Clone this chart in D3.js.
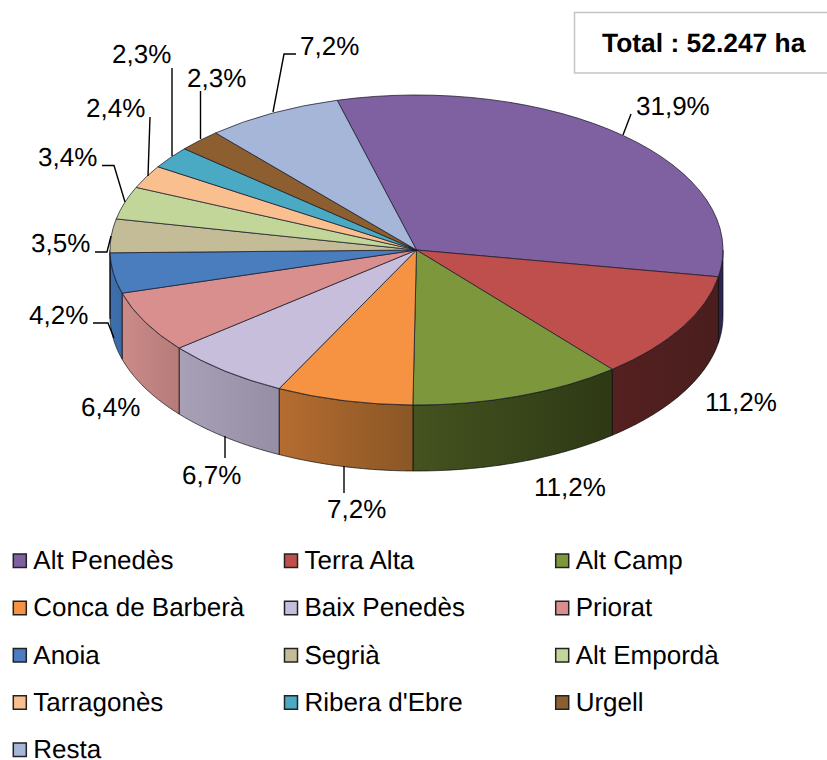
<!DOCTYPE html>
<html>
<head>
<meta charset="utf-8">
<script src="https://cdn.jsdelivr.net/npm/d3@7/dist/d3.min.js"></script>
<style>
html,body{margin:0;padding:0;background:#fff;}
svg{display:block;}
text{font-family:"Liberation Sans",Arial,sans-serif;fill:#000;text-rendering:geometricPrecision;}
</style>
</head>
<body>
<svg id="chart" width="827" height="760"></svg>
<script>
const categories = ["Alt Penedès","Terra Alta","Alt Camp","Conca de Barberà","Baix Penedès","Priorat","Anoia","Segrià","Alt Empordà","Tarragonès","Ribera d'Ebre","Urgell","Resta"];
const shares = [31.9,11.2,11.2,7.2,6.7,6.4,4.2,3.5,3.4,2.4,2.3,2.3,7.2];
const topColors = ["#7f60a0","#bf4f4c","#7d983c","#f59342","#c6bedb","#d98f8e","#4a7dbd","#c3bc96","#c2d69a","#fabf8f","#4aaac4","#8d5f30","#a5b6d8"];
const wallLeft  = ["#2a2048","#552020","#44531f","#b56c30","#a8a0b6","#cb8b89","#3f70ad","#888","#888","#888","#888","#888","#888"];
const wallRight = ["#332a58","#4a1e1e","#2e3915","#8a5726","#968ea4","#b67b79","#3a6ba5","#888","#888","#888","#888","#888","#888"];
const legendCols = 3;
const totalLabel = "Total : 52.247 ha";

// Layout of the annotations (label anchor and leader polyline)
const labelLayout = [
  {x:636,y:115,leader:[[631,114],[623,135]]},
  {x:705,y:411,leader:null},
  {x:534,y:496,leader:null},
  {x:327,y:518,leader:[[344,466],[344,493]]},
  {x:182,y:484,leader:[[225,436],[225,458]]},
  {x:81, y:416,leader:null},
  {x:29, y:324,leader:[[93,323],[108,323],[114,338]]},
  {x:31, y:252,leader:[[95,252],[107,252],[111,236]]},
  {x:38, y:166,leader:[[102,165.5],[114,165.5],[125,202]]},
  {x:86, y:117,leader:[[150,117],[148,176]]},
  {x:112,y:63, leader:[[172,68],[172,156]]},
  {x:187,y:87, leader:[[200.5,91],[200.5,139]]},
  {x:300,y:55, leader:[[296,54],[284,54],[273,112]]}
];

const svg = d3.select("#chart");
const cx = 416.5, cy = 250, rx = 306.5, ry = 155, depth = 66;
const fontSize = 26;
const startAngle = -15 * Math.PI / 180;
const pie = d3.pie().value(d => d).sort(null)
  .startAngle(startAngle).endAngle(startAngle + 2 * Math.PI);
const arcs = pie(shares);

const defs = svg.append("defs");
const wallGroup = svg.append("g");
const topGroup = svg.append("g");

// Side walls (only the front half of the rim is visible)
const ptAt = (a, dy) => [cx + rx * Math.sin(a), cy - ry * Math.cos(a) + dy];
const line = d3.line();
const frontA = Math.PI / 2, frontB = 3 * Math.PI / 2;
arcs.forEach((d, i) => {
  const a0 = Math.max(d.startAngle, frontA), a1 = Math.min(d.endAngle, frontB);
  if (a1 <= a0) return;
  const id = "wall" + i;
  const g = defs.append("linearGradient").attr("id", id).attr("x1", 0).attr("x2", 1).attr("y1", 0).attr("y2", 0);
  g.append("stop").attr("offset", 0).attr("stop-color", wallLeft[i]);
  g.append("stop").attr("offset", 1).attr("stop-color", wallRight[i]);
  const angles = d3.range(0, 61).map(k => a0 + (a1 - a0) * k / 60);
  const pts = angles.map(a => ptAt(a, 0)).concat(angles.slice().reverse().map(a => ptAt(a, depth)));
  wallGroup.append("path")
    .attr("d", line(pts) + "Z")
    .attr("fill", `url(#${id})`)
    .attr("stroke", "#000").attr("stroke-opacity", 0.65).attr("stroke-width", 1);
});

// Top surface: d3.arc squashed into an ellipse
const arcGen = d3.arc().innerRadius(0).outerRadius(rx);
topGroup.attr("transform", `translate(${cx},${cy}) scale(1,${ry / rx})`);
topGroup.selectAll("path").data(arcs).join("path")
  .attr("d", arcGen)
  .attr("fill", (d, i) => topColors[i])
  .attr("stroke", "#1a1a2a").attr("stroke-opacity", 0.75).attr("stroke-width", 1)
  .attr("stroke-linejoin", "round")
  .attr("vector-effect", "non-scaling-stroke");

// Leaders + percentage labels
const pct = d3.format(".1f");
const labels = svg.append("g");
labelLayout.forEach((l, i) => {
  if (l.leader) {
    labels.append("path").attr("d", line(l.leader))
      .attr("fill", "none").attr("stroke", "#000").attr("stroke-width", 1.4);
  }
  labels.append("text").attr("x", l.x).attr("y", l.y)
    .attr("font-size", fontSize)
    .text(pct(shares[i]).replace(".", ",") + "%");
});

// Total box (its right side runs off the picture)
svg.append("rect").attr("x", 574.5).attr("y", 12.5).attr("width", 260).attr("height", 60.5)
  .attr("fill", "#fff").attr("stroke", "#c4c4c4").attr("stroke-width", 1.5);
svg.append("text").attr("x", 602).attr("y", 52)
  .attr("font-size", 26.4).attr("font-weight", "bold").text(totalLabel);

// Legend
const colX = d3.scalePoint().domain(d3.range(legendCols)).range([13.3, 555.7]);
const rowY = d3.scaleLinear().domain([0, 4]).range([569, 758]);
const legend = svg.append("g");
categories.forEach((c, i) => {
  const col = i % legendCols, row = Math.floor(i / legendCols);
  legend.append("rect")
    .attr("x", colX(col)).attr("y", rowY(row) - 15)
    .attr("width", 13).attr("height", 13.5)
    .attr("fill", topColors[i]).attr("stroke", "#222").attr("stroke-width", 1.5);
  legend.append("text")
    .attr("x", colX(col) + 20).attr("y", rowY(row))
    .attr("font-size", fontSize).text(c);
});
</script>
</body>
</html>
